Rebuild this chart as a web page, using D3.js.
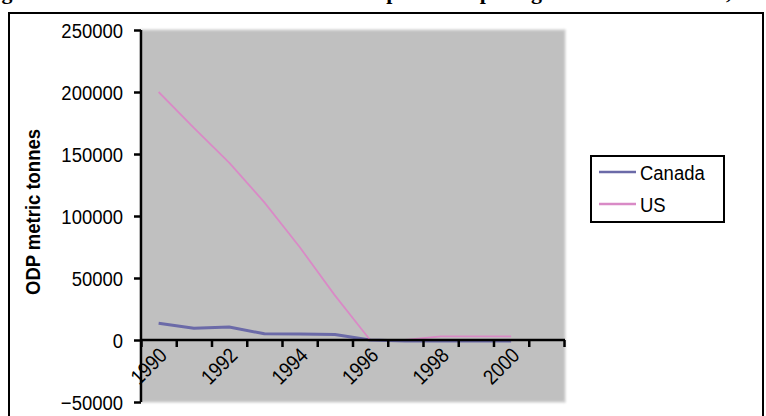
<!DOCTYPE html>
<html>
<head>
<meta charset="utf-8">
<script src="https://cdn.jsdelivr.net/npm/d3@7/dist/d3.min.js"></script>
<style>
  html, body { margin: 0; padding: 0; background: #fff; }
  svg { display: block; }
  .num { font-family: "Liberation Sans", Arial, sans-serif; }
</style>
</head>
<body>
<svg id="chart" width="766" height="416"></svg>
<script>
// Annual halon consumption, ODP metric tonnes
const years = [1990, 1991, 1992, 1993, 1994, 1995, 1996, 1997, 1998, 1999, 2000, 2001];
const canada = [13500, 9500, 10500, 5000, 4800, 4500, 0, -800, -800, -800, -800, null];
const us = [200000, 171000, 143000, 111000, 75000, 36000, 0, 0, 3000, 3000, 3000, null];
const yTicks = [-50000, 0, 50000, 100000, 150000, 200000, 250000];
const xLabels = [1990, 1992, 1994, 1996, 1998, 2000];
const seriesNames = ["Canada", "US"];
const seriesColors = ["#6b6aa8", "#d98ac6"];

// Horizontal squeeze giving the condensed sans look
const SQUEEZE = 0.88;

const svg = d3.select("#chart");

// Caption sits above the framed chart (mostly outside the page top)
svg.append("text")
  .attr("x", -18).attr("y", -1)
  .attr("font-family", "'Liberation Serif', 'Times New Roman', serif")
  .attr("font-weight", "bold").attr("font-size", 22)
  .text("Figure 3: Canadian and US Halon Consumption comparing ODP metric tonnes, 1990 to 2001");

// Outer frame
svg.append("rect")
  .attr("x", 9).attr("y", 13).attr("width", 754).attr("height", 420)
  .attr("fill", "#fff").attr("stroke", "#000").attr("stroke-width", 2);

const plot = { left: 141, right: 564, top: 30, bottom: 402 };

// Years occupy bands; tick marks fall on band edges
const xEdge = d3.scaleLinear().domain([1990, 2002]).range([plot.left, plot.right]);
const xMid = d => xEdge(d + 0.5);
const y = d3.scaleLinear().domain([-50000, 250000]).range([plot.bottom, plot.top]);

// Plot background with soft edge
const defs = svg.append("defs");
defs.append("filter").attr("id", "soft")
  .append("feGaussianBlur").attr("stdDeviation", 0.8);

svg.append("rect")
  .attr("x", plot.left).attr("y", plot.top)
  .attr("width", plot.right - plot.left + 1).attr("height", plot.bottom - plot.top)
  .attr("fill", "#c0c0c0")
  .attr("stroke", "#d6d6d6").attr("stroke-width", 1.5)
  .attr("filter", "url(#soft)");

// Horizontal gridlines
svg.append("g")
  .selectAll("line")
  .data(yTicks.filter(v => v > 0 && v < 250000))
  .join("line")
  .attr("x1", plot.left).attr("x2", plot.right + 1)
  .attr("y1", d => y(d)).attr("y2", d => y(d))
  .attr("stroke", "#353535").attr("stroke-width", 2.8)
  .attr("filter", "url(#soft)");

// Series lines
const line = d3.line()
  .defined(d => d.v !== null)
  .x(d => xMid(d.year))
  .y(d => y(d.v));

const seriesData = [canada, us].map(vals => years.map((yr, i) => ({ year: yr, v: vals[i] })));

svg.append("path")
  .attr("d", line(seriesData[0]))
  .attr("fill", "none").attr("stroke", seriesColors[0])
  .attr("stroke-width", 3).attr("stroke-linejoin", "round");

svg.append("path")
  .attr("d", line(seriesData[1]))
  .attr("fill", "none").attr("stroke", seriesColors[1])
  .attr("stroke-width", 1.8).attr("stroke-linejoin", "round");

// Y axis
const yAxis = svg.append("g")
  .attr("transform", `translate(${plot.left},0)`)
  .call(d3.axisLeft(y).tickValues(yTicks).tickSize(7).tickPadding(10).tickFormat(d3.format("d")));
yAxis.select(".domain").attr("stroke", "#000").attr("stroke-width", 2.5)
  .attr("d", `M0,${plot.top}V${plot.bottom}`);
yAxis.selectAll(".tick line").attr("stroke", "#000").attr("stroke-width", 2.5);
yAxis.selectAll(".tick text")
  .attr("class", "num").attr("font-size", 21).attr("fill", "#000")
  .attr("x", 0)
  .attr("transform", `translate(-18,0) scale(${SQUEEZE},1)`)
  .attr("dy", "0.36em");

// X axis at zero
const xAxis = svg.append("g")
  .attr("transform", `translate(0,${y(0)})`)
  .call(d3.axisBottom(xEdge).tickValues(d3.range(1990, 2003)).tickSize(7).tickFormat(""));
xAxis.select(".domain").attr("stroke", "#000").attr("stroke-width", 2.5)
  .attr("d", `M${plot.left},0H${plot.right + 1}`);
xAxis.selectAll(".tick line").attr("stroke", "#000").attr("stroke-width", 2.5);

// Rotated year labels on every other band
svg.append("g")
  .selectAll("text")
  .data(xLabels)
  .join("text")
  .attr("class", "num")
  .attr("font-size", 21).attr("fill", "#000")
  .attr("text-anchor", "end")
  .attr("transform", d => `translate(${xMid(d) - 1},${y(0) + 6}) rotate(-45) scale(${SQUEEZE},1)`)
  .attr("dy", "0.72em")
  .text(d => d);

// Y axis title
svg.append("text")
  .attr("font-family", "'Liberation Sans', Arial, sans-serif")
  .attr("font-weight", "bold").attr("font-size", 21)
  .attr("text-anchor", "middle")
  .attr("transform", `translate(40,${(y(250000) + y(-50000)) / 2 - 4}) rotate(-90) scale(${SQUEEZE},1)`)
  .text("ODP metric tonnes");

// Legend
const legend = svg.append("g").attr("transform", "translate(591,156)");
legend.append("rect")
  .attr("width", 133).attr("height", 66)
  .attr("fill", "#fff").attr("stroke", "#000").attr("stroke-width", 2);
seriesNames.forEach((name, i) => {
  const ly = 16 + i * 32;
  legend.append("line")
    .attr("x1", 8).attr("x2", 45).attr("y1", ly).attr("y2", ly)
    .attr("stroke", seriesColors[i]).attr("stroke-width", 2.5);
  legend.append("text")
    .attr("class", "num")
    .attr("transform", `translate(49,${ly}) scale(${SQUEEZE},1)`)
    .attr("dy", "0.36em")
    .attr("font-size", 21).attr("fill", "#000")
    .text(name);
});
</script>
</body>
</html>
